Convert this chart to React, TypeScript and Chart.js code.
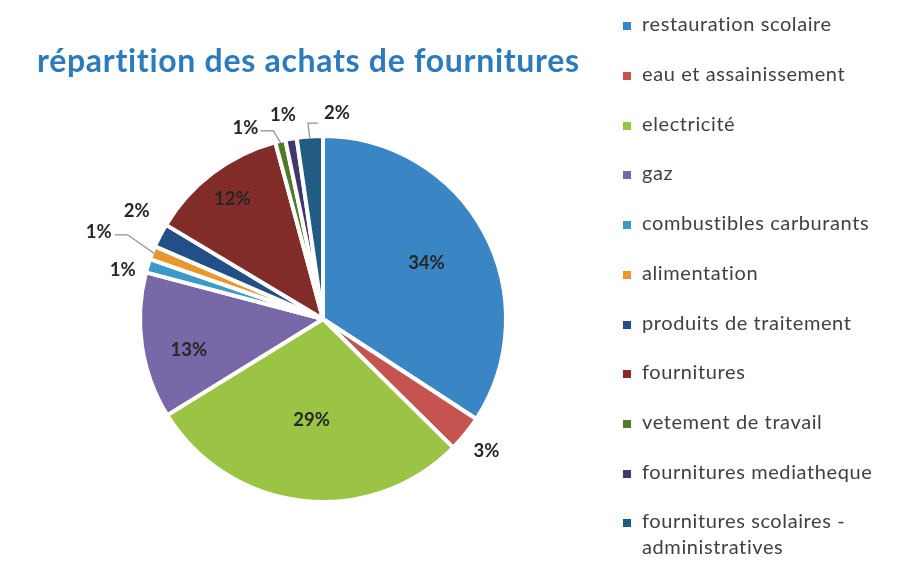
import React, { useEffect, useRef } from "react";
import { Chart, registerables } from "chart.js";

Chart.register(...registerables);

const chartTitle = "répartition des achats de fournitures";
const categories = [
  "restauration scolaire",
  "eau et assainissement",
  "electricité",
  "gaz",
  "combustibles carburants",
  "alimentation",
  "produits de traitement",
  "fournitures",
  "vetement de travail",
  "fournitures mediatheque",
  "fournitures scolaires - administratives",
];
const values = [34.2, 3.2, 28.8, 12.9, 1.2, 1.2, 2.1, 12.2, 0.9, 1.0, 2.3];
const colors = [
  "#3A86C4",
  "#C5534F",
  "#9BC444",
  "#7868A8",
  "#3A9AC8",
  "#E8962E",
  "#234E86",
  "#822C2A",
  "#4E7A2A",
  "#42366F",
  "#225C84",
];
// label placement: radial factor of the radius and angular shift (degrees)
const labelRadius = [0.65, 1.16, 0.56, 0.76, 1.14, 1.33, 1.19, 0.83, 1.14, 1.15, 1.14];
const labelShift = [0, 0, 0, -4.4, -3.1, 0, 3, 0, -8.6, -1, 8];
const leaderOffsets: Record<number, number[][]> = {
  5: [[16, 3], [29, 3]],
  8: [[15, 3], [28, 3]],
  10: [[-19, 10], [-29, 10]],
};

const labelPlugin = {
  id: "pieLabels",
  afterDatasetsDraw(chart: any) {
    const ctx = chart.ctx;
    const meta = chart.getDatasetMeta(0);
    const data = chart.data.datasets[0].data as number[];
    const total = data.reduce((a, b) => a + b, 0);
    ctx.save();
    meta.data.forEach((arc: any, i: number) => {
      const p = arc.getProps(["x", "y", "startAngle", "endAngle", "outerRadius"], true);
      const mid = (p.startAngle + p.endAngle) / 2;
      const r = p.outerRadius - 2;
      const a = mid + (labelShift[i] * Math.PI) / 180;
      const lx = p.x + Math.cos(a) * r * labelRadius[i];
      const ly = p.y + Math.sin(a) * r * labelRadius[i];
      const lead = leaderOffsets[i];
      if (lead) {
        const ex = p.x + Math.cos(mid) * r;
        const ey = p.y + Math.sin(mid) * r;
        ctx.strokeStyle = "#8f8f8f";
        ctx.lineWidth = 1.2;
        ctx.beginPath();
        ctx.moveTo(lx + lead[0][0], ly + lead[0][1]);
        ctx.lineTo(lx + lead[1][0], ly + lead[1][1]);
        ctx.lineTo(ex, ey);
        ctx.stroke();
      }
      ctx.fillStyle = "#262626";
      ctx.font = "bold 18.5px Lato";
      ctx.textAlign = "center";
      ctx.textBaseline = "middle";
      ctx.fillText(Math.round((data[i] / total) * 100) + "%", lx, ly);
    });
    ctx.restore();
  },
};

export default function App() {
  const ref = useRef<HTMLCanvasElement | null>(null);
  useEffect(() => {
    if (!ref.current) return;
    const chart = new Chart(ref.current, {
      type: "pie",
      data: {
        labels: categories,
        datasets: [
          {
            data: values,
            backgroundColor: colors,
            borderColor: "#ffffff",
            borderWidth: 4,
          },
        ],
      },
      options: {
        responsive: false,
        animation: false,
        devicePixelRatio: 1,
        layout: { padding: { left: 138, right: 412, top: 134, bottom: 57 } },
        plugins: {
          legend: { display: false },
          tooltip: { enabled: false },
          title: { display: false },
        },
      },
      plugins: [labelPlugin],
    });
    return () => chart.destroy();
  }, []);

  const fs = 20;
  return (
    <div
      style={{
        position: "absolute",
        left: 0,
        top: 0,
        width: 920,
        height: 561,
        background: "#ffffff",
        overflow: "hidden",
      }}
    >
      <canvas ref={ref} width={920} height={561} style={{ position: "absolute", left: 0, top: 0 }} />
      <div
        style={{
          position: "absolute",
          left: 37,
          top: 44,
          fontFamily: "Lato, sans-serif",
          fontWeight: 700,
          fontSize: 32,
          lineHeight: "32px",
          letterSpacing: "0.7px",
          fontVariantLigatures: "none",
          color: "#2C7BBC",
          whiteSpace: "nowrap",
        }}
      >
        {chartTitle}
      </div>
      {categories.map((c, i) => (
        <div
          key={c}
          style={{
            position: "absolute",
            left: 623,
            top: 10.3 + 49.7 * i,
            display: "flex",
            alignItems: "flex-start",
            fontFamily: "Lato, sans-serif",
            fontSize: fs,
            lineHeight: "26px",
            letterSpacing: "0.6px",
            fontVariantLigatures: "none",
            color: "#404040",
          }}
        >
          <span
            style={{
              display: "inline-block",
              width: 8,
              height: 8,
              marginTop: 12,
              background: colors[i],
              flex: "0 0 auto",
            }}
          />
          <span style={{ marginLeft: 11, width: 270 }}>{c}</span>
        </div>
      ))}
    </div>
  );
}
